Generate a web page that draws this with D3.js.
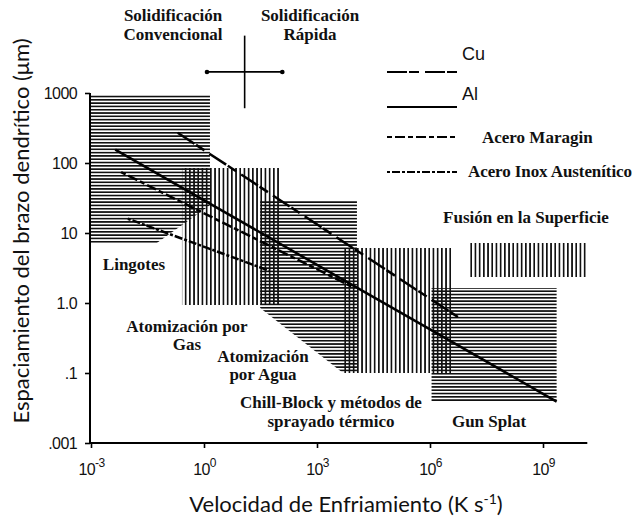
<!DOCTYPE html>
<html>
<head>
<meta charset="utf-8">
<script src="https://cdn.jsdelivr.net/npm/d3@7"></script>
<style>
  body { margin: 0; background: #fff; }
  svg { display: block; }
</style>
</head>
<body>
<script>
// Chart size
const width = 637;
const height = 519;

// Axis ticks
const xTicks = [1e-3, 1, 1e3, 1e6, 1e9];
const xTickExp = ["-3", "0", "3", "6", "9"];
const yTicks = [1000, 100, 10, 1, 0.1, 0.01];
const yTickLabels = ["1000", "100", "10", "1.0", ".1", ".001"];

// Process regions (cooling rate K/s, spacing um)
const regionNames = ["Lingotes", "Atomización por Gas", "Atomización por Agua",
  "Chill-Block y métodos de sprayado térmico", "Gun Splat", "Fusión en la Superficie"];
const regionHatch = ["h", "v", "h", "v", "h", "v"];
const regionPoints = [
  [[1e-3, 940], [1.44, 940], [1.44, 25], [0.056, 7.2], [1e-3, 7.2]],
  [[0.26, 85], [105, 85], [105, 0.94], [0.26, 0.94]],
  [[31, 29], [11500, 29], [11500, 0.1], [4900, 0.1], [31, 0.85]],
  [[4900, 6.1], [3.8e6, 6.1], [3.8e6, 0.1], [4900, 0.1]],
  [[1.1e6, 1.64], [2.3e9, 1.64], [2.3e9, 0.039], [1.1e6, 0.039]],
  [[1.15e7, 7.2], [1.5e10, 7.2], [1.5e10, 2.35], [1.15e7, 2.35]]
];

// Alloy lines
const seriesNames = ["Cu", "Al", "Acero Maragin", "Acero Inox Austenítico"];
const cuLine = [[0.2, 270], [5.5e6, 0.63]];
const alLine = [[0.0044, 155], [2.3e9, 0.039]];
const maraginLine = [[0.0063, 74], [1.0e4, 1.64]];
const inoxLine = [[0.0095, 16], [56, 2.87]];
const seriesLines = [cuLine, alLine, maraginLine, inoxLine];
const seriesDash = ["20,2,10,6", null, "5,3,10,3", "3,2,8,2"];

const serif = "'Liberation Serif', 'Times New Roman', serif";
const sans = "'Liberation Sans', Arial, sans-serif";

const svg = d3.select("body").append("svg")
  .attr("width", width)
  .attr("height", height);

const x = d3.scaleLog().domain([1e-3, 1e9]).range([91, 543]);
const y = d3.scaleLog().domain([0.01, 1000]).range([443, 93]);

// hatch patterns
const defs = svg.append("defs");
const ph = defs.append("pattern")
  .attr("id", "hatch-h")
  .attr("patternUnits", "userSpaceOnUse")
  .attr("width", 8).attr("height", 3.3);
ph.append("rect").attr("width", 8).attr("height", 2).attr("fill", "#111")
  .attr("shape-rendering", "crispEdges");
const pv = defs.append("pattern")
  .attr("id", "hatch-v")
  .attr("patternUnits", "userSpaceOnUse")
  .attr("width", 4.2).attr("height", 8);
pv.append("rect").attr("width", 2).attr("height", 8).attr("fill", "#111")
  .attr("shape-rendering", "crispEdges");

// regions
const poly = d3.line().x(d => x(d[0])).y(d => y(d[1]));
svg.append("g").selectAll("path")
  .data(regionPoints)
  .enter().append("path")
  .attr("d", d => poly(d) + "Z")
  .attr("fill", (d, i) => regionHatch[i] === "h" ? "url(#hatch-h)" : "url(#hatch-v)");

// alloy lines
svg.append("g").selectAll("path")
  .data(seriesLines)
  .enter().append("path")
  .attr("d", d => poly(d))
  .attr("fill", "none")
  .attr("stroke", "#000")
  .attr("stroke-width", 2.5)
  .attr("stroke-dasharray", (d, i) => seriesDash[i]);

// axes
const yAxis = svg.append("g")
  .attr("transform", "translate(90,0)")
  .call(d3.axisLeft(y).tickValues(yTicks)
    .tickFormat((d, i) => yTickLabels[i]).tickSize(5).tickPadding(8));
yAxis.select(".domain").remove();
yAxis.selectAll("line").attr("stroke", "#000").attr("stroke-width", 1.6);
yAxis.selectAll("text")
  .style("font-family", sans).style("font-size", "16px")
  .style("letter-spacing", "-0.6px").attr("fill", "#111");

const xAxis = svg.append("g")
  .attr("transform", "translate(0,443)")
  .call(d3.axisBottom(x).tickValues(xTicks).tickFormat("").tickSize(5));
xAxis.select(".domain").remove();
xAxis.selectAll("line").attr("stroke", "#000").attr("stroke-width", 1.6);
xAxis.selectAll(".tick").append("text")
  .attr("y", 32)
  .attr("text-anchor", "middle")
  .attr("fill", "#111")
  .style("font-family", sans)
  .style("letter-spacing", "-0.6px")
  .each(function(d, i) {
    const t = d3.select(this);
    t.append("tspan").style("font-size", "16px").text("10");
    t.append("tspan").style("font-size", "12px").attr("dy", -8).text(xTickExp[i]);
  });

svg.append("line")
  .attr("x1", 90).attr("x2", x(1.5e10))
  .attr("y1", 443).attr("y2", 443)
  .attr("stroke", "#000").attr("stroke-width", 2);
svg.append("line")
  .attr("x1", 90).attr("x2", 90)
  .attr("y1", y(1000)).attr("y2", 443)
  .attr("stroke", "#000").attr("stroke-width", 2);

// axis titles
svg.append("text")
  .attr("x", 346).attr("y", 512)
  .attr("text-anchor", "middle")
  .style("font-family", "Lato, 'Open Sans', sans-serif")
  .style("font-size", "22px")
  .attr("fill", "#111")
  .each(function() {
    const t = d3.select(this);
    t.append("tspan").text("Velocidad de Enfriamiento  (K s");
    t.append("tspan").attr("dy", -8).style("font-size", "14px").text("-1");
    t.append("tspan").attr("dy", 8).text(")");
  });

svg.append("text")
  .attr("transform", "translate(29,231) rotate(-90)")
  .attr("text-anchor", "middle")
  .style("font-family", "Lato, 'Open Sans', sans-serif")
  .style("font-size", "22px")
  .attr("fill", "#111")
  .text("Espaciamiento del brazo dendrítico  (μm)");

// annotations
function label(lines, cx, y0, size, gap, anchor) {
  const t = svg.append("text")
    .attr("text-anchor", anchor || "middle")
    .style("font-family", serif)
    .style("font-weight", "bold")
    .style("font-size", size + "px")
    .attr("fill", "#111");
  lines.forEach((s, i) => {
    t.append("tspan").attr("x", cx).attr("y", y0 + i * gap).text(s);
  });
}

label(["Solidificación", "Convencional"], 173, 21, 17, 19);
label(["Solidificación", "Rápida"], 310, 21, 17, 19);
label(["Lingotes"], 134, 270, 17, 19);
label(["Atomización por", "Gas"], 187, 332, 17, 18);
label(["Atomización", "por Agua"], 263, 362, 17, 18);
label(["Chill-Block y métodos de", "sprayado térmico"], 331, 408, 17, 19);
label(["Gun Splat"], 489, 427, 17, 19);
label(["Fusión en la Superficie"], 526, 223, 17, 19);

// cross marker between conventional / rapid
const crossX = 12, crossY = 2000;
svg.append("line")
  .attr("x1", x(crossX / 10)).attr("x2", x(crossX * 10))
  .attr("y1", y(crossY)).attr("y2", y(crossY))
  .attr("stroke", "#000").attr("stroke-width", 1.8);
svg.append("line")
  .attr("x1", x(crossX)).attr("x2", x(crossX))
  .attr("y1", y(crossY * 3.3)).attr("y2", y(crossY / 3.3))
  .attr("stroke", "#000").attr("stroke-width", 1.6);
[crossX / 10, crossX * 10].forEach(v => {
  svg.append("circle").attr("cx", x(v)).attr("cy", y(crossY)).attr("r", 2.3).attr("fill", "#000");
});

// legend
const legendY = [72, 107, 137, 172];
const legend = svg.append("g");
seriesNames.forEach((name, i) => {
  legend.append("line")
    .attr("x1", 387).attr("x2", 457)
    .attr("y1", legendY[i]).attr("y2", legendY[i])
    .attr("stroke", "#000").attr("stroke-width", 1.8)
    .attr("stroke-dasharray", seriesDash[i]);
});
legend.append("text").attr("x", 462).attr("y", 60)
  .style("font-family", sans).style("font-size", "18px").attr("fill", "#111").text(seriesNames[0]);
legend.append("text").attr("x", 462).attr("y", 100)
  .style("font-family", sans).style("font-size", "18px").attr("fill", "#111").text(seriesNames[1]);
legend.append("text").attr("x", 482).attr("y", 143)
  .style("font-family", serif).style("font-weight", "bold").style("font-size", "17px")
  .attr("fill", "#111").text(seriesNames[2]);
legend.append("text").attr("x", 468).attr("y", 177)
  .style("font-family", serif).style("font-weight", "bold").style("font-size", "17px")
  .attr("textLength", 164).attr("lengthAdjust", "spacing")
  .attr("fill", "#111").text(seriesNames[3]);
</script>
</body>
</html>
